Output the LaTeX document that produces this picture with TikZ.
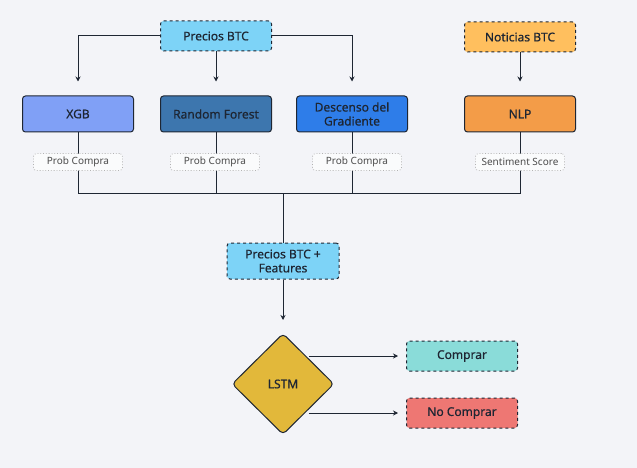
\documentclass[tikz,border=0pt]{standalone}
\usepackage{fontspec}
\setmainfont{Noto Sans}
\newfontfamily\medfont{Noto Sans}[FakeBold=0.6]
\usetikzlibrary{arrows.meta, shapes.geometric}
\definecolor{bgcol}{HTML}{F3F4F8}
\definecolor{inkcol}{HTML}{1E2633}
\definecolor{btccol}{HTML}{7DD3F7}
\definecolor{newscol}{HTML}{FFBF5E}
\definecolor{xgbcol}{HTML}{80A0F6}
\definecolor{rfcol}{HTML}{3D76AE}
\definecolor{gdcol}{HTML}{2E7DE9}
\definecolor{nlpcol}{HTML}{F39C48}
\definecolor{lstmcol}{HTML}{E2B83A}
\definecolor{buycol}{HTML}{8ADCD9}
\definecolor{nobuycol}{HTML}{EE7773}

\begin{document}
\begin{tikzpicture}[x=1pt, y=-1pt,
    model/.style={draw=inkcol, line width=1pt, rounded corners=3pt, minimum width=111pt, minimum height=36pt, align=center, text=inkcol, font=\medfont\fontsize{12}{14}\selectfont},
    data/.style={model, dashed, minimum height=30pt},
    tag/.style={draw=black!30, line width=0.8pt, dotted, fill=white!60!bgcol, rounded corners=3pt, minimum width=89pt, minimum height=17pt, text=black!70, font=\fontsize{10}{11}\selectfont},
    link/.style={draw=inkcol, line width=1pt},
    arr/.style={link, -{Stealth[length=5pt, width=5pt]}}
  ]
      \fill[bgcol] (0,0) rectangle (637,468);
      % Inputs
      \node[data, fill=btccol] (P) at (216,36) {Precios BTC};
      \node[data, fill=newscol] (N) at (520,37) {Noticias BTC};
      % Models
      \node[model, fill=xgbcol] (X) at (78,114) {XGB};
      \node[model, fill=rfcol] (RF) at (216,114) {Random Forest};
      \node[model, fill=gdcol] (GD) at (352,114) {Descenso del\\Gradiente};
      \node[model, fill=nlpcol] (NLP) at (520,114) {NLP};
      % Input arrows
      \draw[arr, shorten >=14pt] (P.west) -| (X.north);
      \draw[arr, shorten >=14pt] (P.south) -- (RF.north);
      \draw[arr, shorten >=14pt] (P.east) -| (GD.north);
      \draw[arr, shorten >=14pt] (N.south) -- (NLP.north);
      % Merge
      \coordinate (bus) at (283,193);
      \node[data, fill=btccol, minimum width=112pt, minimum height=36pt] (F) at (283,261) {Precios BTC +\\Features};
      \draw[link] (X.south) |- (bus);
      \draw[link] (RF.south) |- (bus);
      \draw[link] (GD.south) |- (bus);
      \draw[link] (NLP.south) |- (bus);
      \draw[link] (bus) -- (F.north);
      % Outputs of the models
      \node[tag] (t1) at (78,162) {Prob Compra};
      \node[tag] (t2) at (215,162) {Prob Compra};
      \node[tag] (t3) at (357,162) {Prob Compra};
      \node[tag] (t4) at (520,162) {Sentiment Score};
      % Decision
      \node[diamond, draw=inkcol, line width=1pt, fill=lstmcol, rounded corners=4pt, minimum width=102pt, minimum height=101pt, inner sep=0pt, text=inkcol, font=\medfont\fontsize{12}{14}\selectfont] (L) at (283,384) {LSTM};
      \node[data, fill=buycol] (C) at (462,356) {Comprar};
      \node[data, fill=nobuycol] (NC) at (462,413) {No Comprar};
      \draw[arr, shorten >=13pt] (F.south) -- (L.north);
      \draw[arr, shorten >=8pt] (L.north east |- C.west) -- (C.west);
      \draw[arr, shorten >=8pt] (L.south east |- NC.west) -- (NC.west);
    \end{tikzpicture}
\end{document}
